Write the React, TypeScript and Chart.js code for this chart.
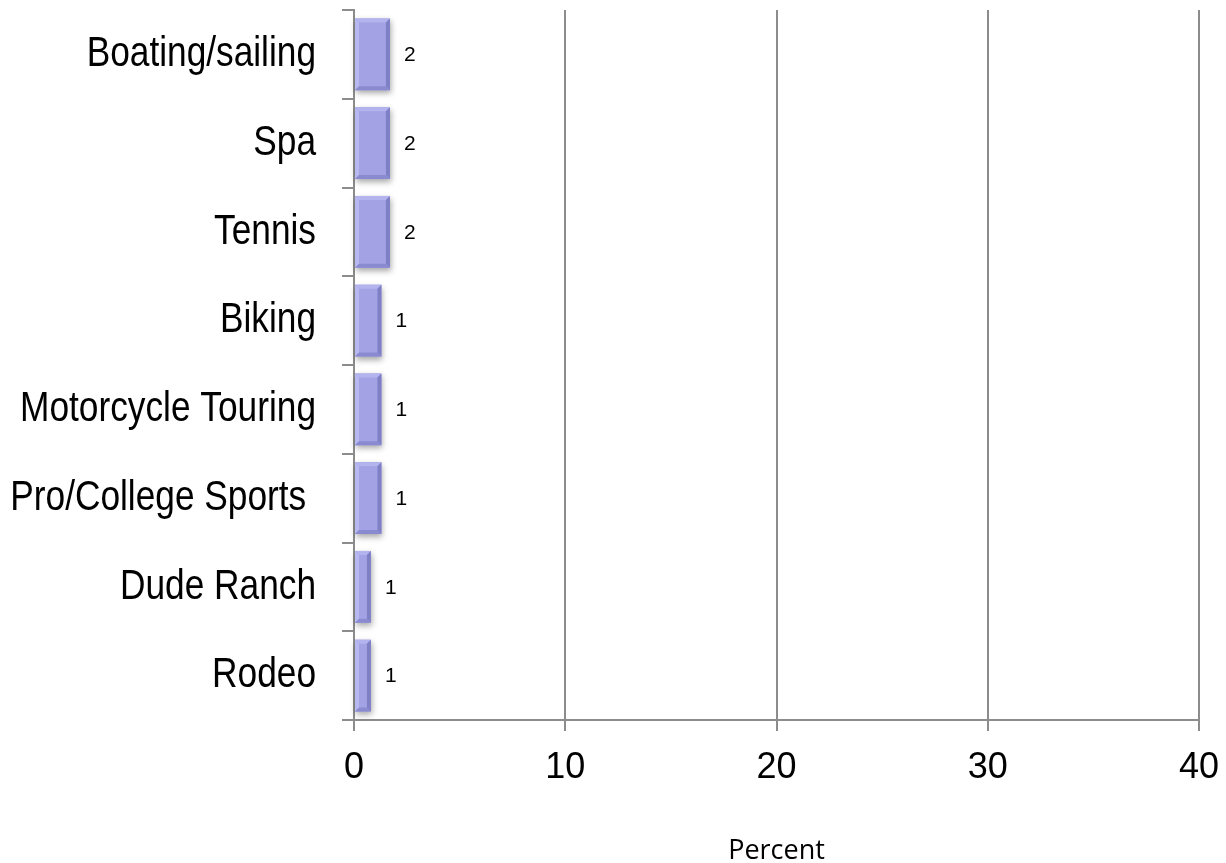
import React, { useEffect, useRef } from "react";
import { Chart, registerables } from "chart.js";

Chart.register(...registerables);

const categories = [
  "Boating/sailing",
  "Spa",
  "Tennis",
  "Biking",
  "Motorcycle Touring",
  "Pro/College Sports ",
  "Dude Ranch",
  "Rodeo",
];
const percentValues = [1.7, 1.7, 1.7, 1.3, 1.3, 1.3, 0.8, 0.8];
const valueLabels = ["2", "2", "2", "1", "1", "1", "1", "1"];
const xTickValues = [0, 10, 20, 30, 40];
const xTitle = "Percent";

const FONT = "'Liberation Sans', Arial, sans-serif";

const bevelPlugin = {
  id: "bevelBars",
  beforeDatasetsDraw(chart: any) {
    const ctx = chart.ctx;
    const meta = chart.getDatasetMeta(0);
    ctx.save();
    meta.data.forEach((bar: any) => {
      const { x, y, base, height } = bar.getProps(["x", "y", "base", "height"], true);
      const top = y - height / 2;
      ctx.shadowColor = "rgba(0,0,0,0.35)";
      ctx.shadowBlur = 6;
      ctx.shadowOffsetX = 1;
      ctx.shadowOffsetY = 3;
      ctx.fillStyle = "#a2a2e4";
      ctx.fillRect(base, top, x - base, height);
    });
    ctx.restore();
  },
  afterDatasetsDraw(chart: any) {
    const ctx = chart.ctx;
    const meta = chart.getDatasetMeta(0);
    ctx.save();
    meta.data.forEach((bar: any, i: number) => {
      const { x, y, base, height } = bar.getProps(["x", "y", "base", "height"], true);
      const top = y - height / 2;
      const b = 4;
      ctx.fillStyle = "#b3b3ee";
      ctx.beginPath();
      ctx.moveTo(base, top);
      ctx.lineTo(x, top);
      ctx.lineTo(x - b, top + b);
      ctx.lineTo(base + b, top + b);
      ctx.closePath();
      ctx.fill();
      ctx.fillStyle = "#b8b8f0";
      ctx.beginPath();
      ctx.moveTo(base, top);
      ctx.lineTo(base + b, top + b);
      ctx.lineTo(base + b, top + height - b);
      ctx.lineTo(base, top + height);
      ctx.closePath();
      ctx.fill();
      ctx.fillStyle = "#7f7fc6";
      ctx.beginPath();
      ctx.moveTo(x, top);
      ctx.lineTo(x, top + height);
      ctx.lineTo(x - b, top + height - b);
      ctx.lineTo(x - b, top + b);
      ctx.closePath();
      ctx.fill();
      ctx.fillStyle = "#8a8ad0";
      ctx.beginPath();
      ctx.moveTo(base, top + height);
      ctx.lineTo(x, top + height);
      ctx.lineTo(x - b, top + height - b);
      ctx.lineTo(base + b, top + height - b);
      ctx.closePath();
      ctx.fill();
      ctx.fillStyle = "#000";
      ctx.font = "21px " + FONT;
      ctx.textAlign = "left";
      ctx.textBaseline = "middle";
      ctx.fillText(valueLabels[i], x + 14, y + 1);
    });
    ctx.restore();
  },
  afterDraw(chart: any) {
    // category labels, drawn condensed like the original
    const ctx = chart.ctx;
    const yScale = chart.scales.y;
    ctx.save();
    ctx.fillStyle = "#000";
    ctx.font = "43px " + FONT;
    ctx.textAlign = "right";
    ctx.textBaseline = "middle";
    categories.forEach((label, i) => {
      const yy = yScale.getPixelForValue(i);
      ctx.save();
      ctx.translate(316, yy);
      ctx.scale(0.82, 1);
      ctx.fillText(label, 0, 0);
      ctx.restore();
    });
    ctx.restore();
  },
};

export default function App() {
  const canvasRef = useRef<HTMLCanvasElement | null>(null);

  useEffect(() => {
    if (!canvasRef.current) return;
    const chart = new Chart(canvasRef.current, {
      type: "bar",
      data: {
        labels: categories,
        datasets: [
          {
            data: percentValues,
            backgroundColor: "rgba(0,0,0,0)",
            borderWidth: 0,
            barPercentage: 0.9,
            categoryPercentage: 0.9,
          },
        ],
      },
      plugins: [bevelPlugin],
      options: {
        indexAxis: "y",
        animation: false,
        responsive: false,
        maintainAspectRatio: false,
        layout: { padding: { top: 10, right: 27, left: 0, bottom: 0 } },
        plugins: {
          legend: { display: false },
          tooltip: { enabled: false },
        },
        scales: {
          x: {
            min: 0,
            max: 40,
            afterBuildTicks(scale: any) {
              scale.ticks = xTickValues.map((v) => ({ value: v }));
            },
            afterFit(scale: any) {
              scale.height = 143;
              scale.paddingLeft = 0;
              scale.paddingRight = 0;
            },
            ticks: {
              color: "#000",
              font: { family: FONT, size: 36 },
              padding: 15,
              maxRotation: 0,
            },
            grid: {
              color: "#8c8c8c",
              lineWidth: 2,
              tickLength: 11,
              drawOnChartArea: true,
            },
            border: { display: true, color: "#8c8c8c", width: 2 },
            title: {
              display: true,
              text: xTitle,
              color: "#000",
              font: { family: "'Open Sans', sans-serif", size: 27 },
              padding: { top: -5, bottom: -5 },
            },
          },
          y: {
            afterFit(scale: any) {
              scale.width = 354;
              scale.paddingTop = 0;
              scale.paddingBottom = 0;
            },
            ticks: {
              display: false,
            },
            grid: {
              color: "#8c8c8c",
              lineWidth: 2,
              tickLength: 12,
              drawOnChartArea: false,
              offset: true,
            },
            border: { display: true, color: "#8c8c8c", width: 2 },
          },
        },
      },
    });
    return () => chart.destroy();
  }, []);

  return (
    <div style={{ position: "fixed", left: 0, top: 0, width: 1226, height: 863, background: "#fff" }}>
      <canvas ref={canvasRef} width={1226} height={863} style={{ display: "block" }} />
    </div>
  );
}
